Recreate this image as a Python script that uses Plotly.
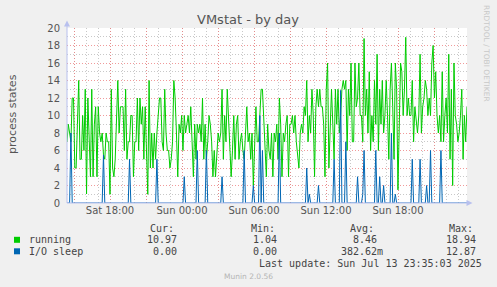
import plotly.graph_objects as go
import pandas as pd

# ---------------- data ----------------
start = pd.Timestamp("2025-07-12 14:25")
end = pd.Timestamp("2025-07-13 23:45")

run_a = [7, 9, 8, 7, 12, 12, 4, 4, 9, 14, 5, 5, 10, 6, 13, 1.04, 12, 7, 3, 13, 3, 9, 11, 3, 11,
         8, 7, 8, 5.5, 5, 8, 7, 7, 1, 13, 4, 3, 5, 10, 14, 8, 11]
run_b = [11, 11, 6, 13, 5, 7, 7, 10, 10, 3, 7, 7, 12, 6, 12, 9, 11, 5, 11, 7, 1, 14, 4, 8, 4, 8,
         5, 8, 10, 12, 12, 7, 6, 13, 8, 6, 6, 4, 5, 7, 14, 12, 8, 3, 9]
run_c = [8, 10, 6, 10, 8, 9, 10, 8, 11, 7, 3, 9, 5, 9, 8, 9, 7, 12, 5, 9, 5, 7, 10, 9, 7, 3, 6,
         3, 5, 8, 7, 8, 13, 5, 10, 7, 13, 9, 7, 3, 6, 10, 5, 9]
run_d = [10, 5, 7, 8, 6, 5, 8, 11, 7, 8, 5, 8, 2, 7, 11, 7, 7, 10, 13, 13, 9, 5, 3, 9, 6, 5, 8,
         3, 8, 7, 9, 5, 12, 9, 3, 8, 7, 9, 10, 3, 9, 9, 10, 8]
run_e = [10, 7, 5, 4, 8, 9, 8, 11, 10, 14, 7, 10, 8, 13, 10, 3, 11, 13, 11, 13, 11, 11, 9, 3, 13,
         16, 4, 10, 13, 9, 5, 13, 9, 13, 8, 10, 13, 14, 13, 14, 6, 13, 10, 16, 7]
run_f = [7, 16, 11, 12, 16, 10, 10, 7, 18.8, 10, 13, 8, 15, 6, 10, 7, 14, 9, 17, 6, 13, 9, 14, 8,
         10, 14, 10, 5, 13, 16, 11, 5, 16, 13, 1.5, 9, 16, 15, 10, 13, 18.94, 10, 12, 10]
run_g = [10, 14, 7, 11, 9, 8, 10, 17, 8, 11, 12, 14, 13, 10, 12, 10, 16, 18, 12, 15, 10, 8, 10, 7,
         15, 7, 10, 12, 8, 17, 5, 13, 2, 16, 10, 9, 7, 8, 10, 13, 5, 10, 7, 10.97]
running = run_a + run_b + run_c + run_d + run_e + run_f + run_g

io_spike_index = [3, 28, 48, 69, 90, 100, 107, 119, 136, 143, 148, 150, 163, 184, 186, 193, 205,
                  210, 214, 223, 227, 228, 237, 240, 243, 249, 252, 265, 271, 276, 279, 287]
io_spike_value = [8, 5.5, 5, 5, 3, 6, 6, 3, 6, 2, 10, 6, 8, 4, 1, 2, 5,
                  12.87, 7, 3, 1, 6, 6, 3, 2, 8, 1, 5, 5, 2, 6, 6]

N = len(running)
times = pd.date_range(start, end, periods=N)
io_sleep = [0.0] * N
for i, v in zip(io_spike_index, io_spike_value):
    io_sleep[i] = v

tick_times = pd.date_range("2025-07-12 15:00", "2025-07-13 21:00", freq="3h")
tick_text = [t.strftime("%a %H:%M") if t.hour % 6 == 0 else "" for t in tick_times]

legend_rows = [
    ("running", "#00cc00", "10.97", "1.04", "8.46", "18.94"),
    ("I/O sleep", "#0066b3", "0.00", "0.00", "382.62m", "12.87"),
]

# ---------------- layout helpers ----------------
W, H = 497, 287
L, R, T, B = 67, 30, 28, 84
PW, PH = W - L - R, H - T - B


def px(x):
    return (x - L) / PW


def py(y):
    return (H - B - y) / PH


fig = go.Figure()
fig.add_trace(go.Scatter(x=times, y=running, mode="lines",
                         line=dict(color="#00cc00", width=1), hoverinfo="skip"))
fig.add_trace(go.Scatter(x=times, y=io_sleep, mode="lines",
                         line=dict(color="#0066b3", width=1), hoverinfo="skip"))

major_grid = "rgba(235,120,120,0.75)"
minor_grid = "rgba(190,190,190,0.85)"

fig.update_layout(
    width=W, height=H,
    margin=dict(l=L, r=R, t=T, b=B),
    paper_bgcolor="#f0f0f0", plot_bgcolor="#ffffff",
    showlegend=False,
    font=dict(family="DejaVu Sans", size=10, color="#555555"),
    xaxis=dict(
        range=[start, end], tickvals=tick_times, ticktext=tick_text,
        showgrid=True, gridcolor=major_grid, griddash="1px,2px", gridwidth=1,
        minor=dict(dtick=3600000, tick0="2025-07-12 00:00", showgrid=True,
                   gridcolor=minor_grid, griddash="1px,2px", gridwidth=1),
        showline=False, zeroline=False, ticks="",
        tickfont=dict(size=10, color="#555555"),
    ),
    yaxis=dict(
        range=[0, 20], dtick=2, tick0=0,
        showgrid=True, gridcolor=major_grid, griddash="1px,2px", gridwidth=1,
        minor=dict(dtick=1, showgrid=True, gridcolor=minor_grid,
                   griddash="1px,2px", gridwidth=1),
        showline=False, zeroline=False,
        ticks="outside", ticklen=4, tickcolor="rgba(0,0,0,0)",
        tickfont=dict(size=10, color="#555555"),
    ),
)

axis_col = "#b8c0ee"
shapes = [
    dict(type="line", xref="paper", yref="paper", x0=px(L), x1=px(468), y0=py(203), y1=py(203),
         line=dict(color=axis_col, width=1)),
    dict(type="line", xref="paper", yref="paper", x0=px(L), x1=px(L), y0=py(203), y1=py(24),
         line=dict(color=axis_col, width=1)),
    dict(type="path", xref="paper", yref="paper",
         path=f"M {px(64)} {py(26.5)} L {px(70)} {py(26.5)} L {px(67)} {py(20.5)} Z",
         fillcolor=axis_col, line=dict(width=0)),
    dict(type="path", xref="paper", yref="paper",
         path=f"M {px(466.5)} {py(200)} L {px(466.5)} {py(206)} L {px(472.5)} {py(203)} Z",
         fillcolor=axis_col, line=dict(width=0)),
]

ann = []


def text(x, y, s, size=10, color="#444444", family="DejaVu Sans", xanchor="left", angle=0):
    ann.append(dict(x=px(x), y=py(y), xref="paper", yref="paper", text=s, showarrow=False,
                    xanchor=xanchor, yanchor="middle", textangle=angle,
                    font=dict(size=size, color=color, family=family)))


text(248, 19.5, "VMstat - by day", size=13, color="#555555", xanchor="center")
text(12, 114, "process states", size=11, color="#555555", xanchor="center", angle=-90)
text(487, 53, "RRDTOOL / TOBI OETIKER", size=7.5, color="#c8c8c8", xanchor="center", angle=90)

mono = "DejaVu Sans Mono"
text(148, 228.3, "Cur:", family=mono)
text(249, 228.3, "Min:", family=mono)
text(348, 228.3, "Avg:", family=mono)
text(447, 228.3, "Max:", family=mono)

row_y = [239.8, 251.3]
value_right = [178.5, 278.5, 378.5, 477.5]
for (name, col, cur, mn, avg, mx), yy in zip(legend_rows, row_y):
    shapes.append(dict(type="rect", xref="paper", yref="paper",
                       x0=px(14), x1=px(20), y0=py(yy - 3), y1=py(yy + 3),
                       fillcolor=col, line=dict(width=0)))
    text(26.5, yy, name, family=mono)
    for val, xr in zip([cur, mn, avg, mx], value_right):
        if val.endswith("m"):
            text(xr + 6, yy, val, family=mono, xanchor="right")
        else:
            text(xr, yy, val, family=mono, xanchor="right")

text(483.5, 263.5, "Last update: Sun Jul 13 23:35:03 2025", family=mono, xanchor="right")
text(248, 276, "Munin 2.0.56", size=7.5, color="#b4b4b4", xanchor="center")

fig.update_layout(shapes=shapes, annotations=ann)
fig.write_html("out.html")
